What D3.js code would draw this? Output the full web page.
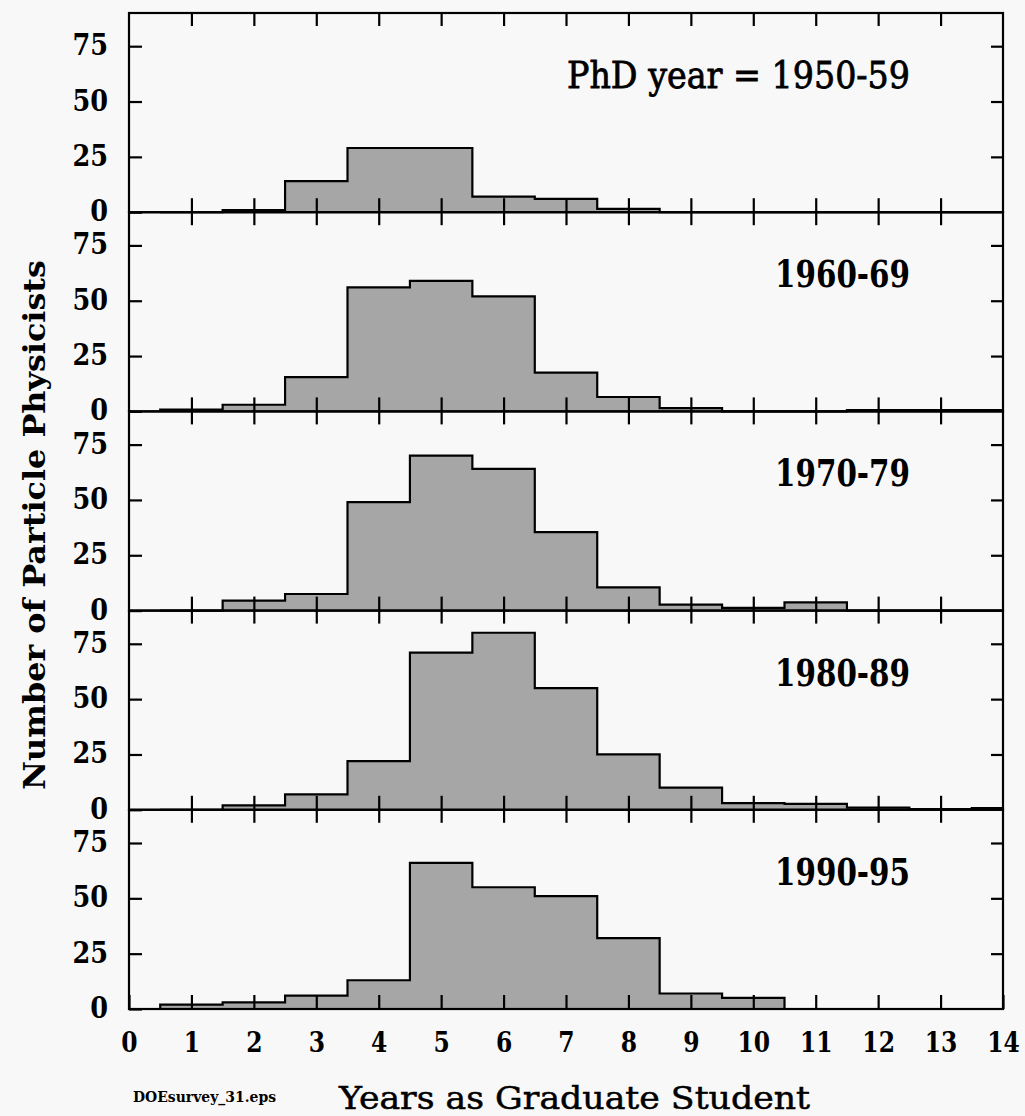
<!DOCTYPE html>
<html><head><meta charset="utf-8">
<script src="https://cdn.jsdelivr.net/npm/d3@7"></script>
<style>html,body{margin:0;padding:0;background:#f8f8f8;} svg{display:block;}</style>
</head><body>
<svg id="chart" width="1025" height="1116"></svg>
<script>
// ---- data ----
const binCenters = [1, 2, 3, 4, 5, 6, 7, 8, 9, 10, 11, 12, 13, 14];
const counts1950s = [0, 1, 14, 29, 29, 7, 6, 1.5, 0, 0, 0, 0, 0, 0];
const counts1960s = [0.8, 3, 15.5, 56, 59, 52, 17.5, 6.5, 1.5, 0, 0, 0.6, 0.6, 0.6];
const counts1970s = [0, 4.5, 7.5, 49, 70, 64, 35.5, 10.5, 2.7, 1.2, 3.7, 0, 0, 0];
const counts1980s = [0, 2, 7, 22, 71, 80, 55, 25, 10, 3, 2.7, 1, 0.3, 0.8];
const counts1990s = [2, 3, 6, 13, 66, 55, 51, 32, 7, 5, 0, 0, 0, 0];
const panelLabels = ["PhD year = 1950-59", "1960-69", "1970-79", "1980-89", "1990-95"];
const yTickValues = [0, 25, 50, 75];
const xTickValues = [0, 1, 2, 3, 4, 5, 6, 7, 8, 9, 10, 11, 12, 13, 14];
const xInnerTicks = [1, 2, 3, 4, 5, 6, 7, 8, 9, 10, 11, 12, 13];
const xTitle = "Years as Graduate Student";
const yTitle = "Number of Particle Physicists";
const fileTag = "DOEsurvey_31.eps";

const series = [counts1950s, counts1960s, counts1970s, counts1980s, counts1990s];

// ---- layout ----
const L = 129, R = 1003, T = 13, PH = 199.2, N = series.length;
const FONT = "'DejaVu Serif', 'Liberation Serif', serif";
const x = d3.scaleLinear().domain([0, 14]).range([L, R]);
const y = d3.scaleLinear().domain([0, 90]).range([PH, 0]);

const svg = d3.select("#chart");
svg.append("rect").attr("width", 1025).attr("height", 1116).attr("fill", "#f8f8f8");
svg.append("defs").append("clipPath").attr("id", "clip")
  .append("rect").attr("x", L).attr("y", -2).attr("width", R - L).attr("height", PH + 4);

series.forEach((vals, i) => {
  const g = svg.append("g").attr("transform", `translate(0,${T + i * PH})`);
  const pts = [];
  binCenters.forEach((c, j) => { pts.push([c - 0.5, vals[j]]); pts.push([c + 0.5, vals[j]]); });
  const outline = [[pts[0][0], 0], ...pts, [pts[pts.length - 1][0], 0]];

  const area = d3.area().x(d => x(d[0])).y0(y(0)).y1(d => y(d[1]));
  const line = d3.line().x(d => x(d[0])).y(d => y(d[1]));
  const clipG = g.append("g").attr("clip-path", "url(#clip)");
  clipG.append("path").datum(pts).attr("d", area).attr("fill", "#a6a6a6");
  clipG.append("path").datum(outline).attr("d", line).attr("fill", "none")
    .attr("stroke", "#000").attr("stroke-width", 2.2).attr("stroke-linejoin", "miter");

  const yl = g.append("g").attr("transform", `translate(${L},0)`)
    .call(d3.axisLeft(y).tickValues(yTickValues).tickSize(-13).tickPadding(21).tickFormat(d3.format("d")));
  const yr = g.append("g").attr("transform", `translate(${R},0)`)
    .call(d3.axisRight(y).tickValues(yTickValues.slice(1)).tickSize(-12).tickFormat(""));
  const xt = g.append("g").attr("transform", `translate(0,0)`)
    .call(d3.axisTop(x).tickValues(xInnerTicks).tickSize(-13).tickFormat(""));
  const last = i === N - 1;
  const xb = g.append("g").attr("transform", `translate(0,${PH})`)
    .call(d3.axisBottom(x).tickValues(last ? xTickValues : xInnerTicks).tickSize(-14)
      .tickFormat(last ? d3.format("d") : ""));

  [yl, yr, xt, xb].forEach(a => {
    a.select(".domain").remove();
    a.selectAll(".tick line").attr("stroke", "#000").attr("stroke-width", 2.2);
  });
  yl.selectAll(".tick text")
    .attr("font-family", FONT).attr("font-weight", "bold").attr("font-size", 29)
    .attr("fill", "#000").attr("dy", 0).attr("y", 8.5)
    .attr("textLength", d => String(d).length * 17.8).attr("lengthAdjust", "spacingAndGlyphs");
  if (last) {
    xb.selectAll(".tick text")
      .attr("font-family", FONT).attr("font-weight", "bold").attr("font-size", 27.5)
      .attr("fill", "#000").attr("dy", 0).attr("y", 42.7)
      .attr("textLength", d => String(d).length * 16.3).attr("lengthAdjust", "spacingAndGlyphs");
  }

  g.append("rect").attr("x", L).attr("y", 0).attr("width", R - L).attr("height", PH)
    .attr("fill", "none").attr("stroke", "#000").attr("stroke-width", 2.2);

  const lab = panelLabels[i];
  const t = g.append("text").attr("x", 910).attr("y", 75).attr("text-anchor", "end")
    .attr("font-family", FONT).attr("font-size", 36.5)
    .attr("font-weight", i === 0 ? "normal" : "bold").attr("fill", "#000")
    .attr("textLength", i === 0 ? 343 : 135).attr("lengthAdjust", "spacingAndGlyphs")
    .text(lab);
  if (i === 0) t.attr("stroke", "#000").attr("stroke-width", 0.8);
});

svg.append("text").attr("x", 574.5).attr("y", 1109).attr("text-anchor", "middle")
  .attr("font-family", FONT).attr("font-size", 31).attr("fill", "#000")
  .attr("stroke", "#000").attr("stroke-width", 0.5)
  .attr("textLength", 471).attr("lengthAdjust", "spacingAndGlyphs").text(xTitle);

svg.append("text").attr("transform", "translate(45,525) rotate(-90)").attr("text-anchor", "middle")
  .attr("font-family", FONT).attr("font-size", 29).attr("font-weight", "bold").attr("fill", "#000")
  .attr("textLength", 530).attr("lengthAdjust", "spacingAndGlyphs").text(yTitle);

svg.append("text").attr("x", 133).attr("y", 1102)
  .attr("font-family", FONT).attr("font-size", 14).attr("font-weight", "bold").attr("fill", "#000")
  .attr("textLength", 143).attr("lengthAdjust", "spacingAndGlyphs").text(fileTag);
</script>
</body></html>
